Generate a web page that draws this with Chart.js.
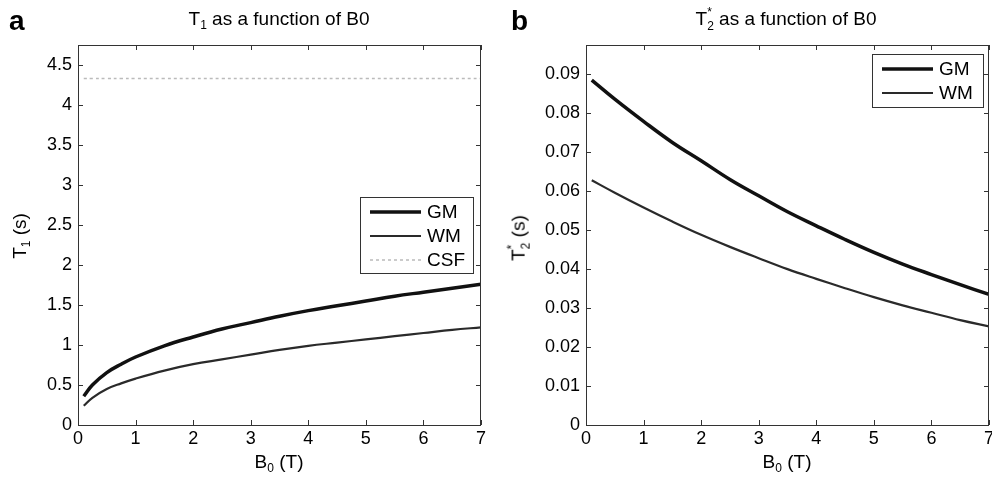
<!DOCTYPE html>
<html>
<head>
<meta charset="utf-8">
<script src="https://cdn.jsdelivr.net/npm/chart.js@4/dist/chart.umd.min.js"></script>
<style>
  body { margin: 0; background: #fff; }
  #wrap { position: relative; width: 992px; height: 484px; overflow: hidden; font-family: "Liberation Sans", Arial, sans-serif; color: #000; }
  canvas { position: absolute; top: 0; }
  .lbl { position: absolute; transform: translate(-50%, -50%); white-space: nowrap; font-size: 19px; color: #000; }
  .panel { position: absolute; font-size: 28px; font-weight: bold; }
  .rot { transform: translate(-50%, -50%) rotate(-90deg); }
  sub, sup { font-size: 12px; }
</style>
</head>
<body>
<div id="wrap">
  <canvas id="t1chart" width="496" height="484" style="left:0"></canvas>
  <canvas id="t2chart" width="496" height="484" style="left:496px"></canvas>
  <div class="panel" style="left:9px;top:5px">a</div>
  <div class="panel" style="left:511px;top:5px">b</div>
  <div class="lbl" style="left:279px;top:20px">T<sub>1</sub> as a function of B0</div>
  <div class="lbl" style="left:786px;top:20px">T<sub style="position:relative">2<sup style="position:absolute;left:0px;top:-14px">*</sup></sub> as a function of B0</div>
  <div class="lbl" style="left:279px;top:463px">B<sub>0</sub> (T)</div>
  <div class="lbl" style="left:787px;top:463px">B<sub>0</sub> (T)</div>
  <div class="lbl rot" style="left:21px;top:236px">T<sub>1</sub> (s)</div>
  <div class="lbl rot" style="left:520px;top:238px">T<sub style="position:relative">2<sup style="position:absolute;left:0px;top:-14px">*</sup></sub> (s)</div>
</div>
<script>
// B0 field strengths (T)
const b0T1 = [0.1, 0.25, 0.5, 0.75, 1, 1.5, 2, 2.5, 3, 3.5, 4, 4.5, 5, 5.5, 6, 6.5, 7];
const t1GM = [0.36, 0.50, 0.655, 0.76, 0.85, 0.99, 1.10, 1.20, 1.28, 1.36, 1.43, 1.49, 1.55, 1.61, 1.66, 1.71, 1.76];
const t1WM = [0.24, 0.34, 0.45, 0.52, 0.58, 0.68, 0.76, 0.82, 0.88, 0.94, 0.99, 1.03, 1.07, 1.11, 1.15, 1.19, 1.22];
const t1CSF = [4.33, 4.33, 4.33, 4.33, 4.33, 4.33, 4.33, 4.33, 4.33, 4.33, 4.33, 4.33, 4.33, 4.33, 4.33, 4.33, 4.33];

const b0T2 = [0.1, 0.5, 1, 1.5, 2, 2.5, 3, 3.5, 4, 4.5, 5, 5.5, 6, 6.5, 7];
const t2GM = [0.0885, 0.0836, 0.0779, 0.0725, 0.0678, 0.0630, 0.0588, 0.0547, 0.0511, 0.0476, 0.0443, 0.0413, 0.0386, 0.0360, 0.0335];
const t2WM = [0.0628, 0.0596, 0.0558, 0.0522, 0.0488, 0.0457, 0.0428, 0.0400, 0.0375, 0.0351, 0.0328, 0.0307, 0.0288, 0.0269, 0.0253];

const xTicks = [0, 1, 2, 3, 4, 5, 6, 7];

function pts(xs, ys) {
  return xs.map((x, i) => ({ x: x, y: ys[i] }));
}

// matlab style box with inward ticks + legend box
const matlabBox = {
  id: 'matlabBox',
  afterDraw(chart, args, opts) {
    const ctx = chart.ctx;
    const a = chart.chartArea;
    ctx.save();
    ctx.strokeStyle = '#333';
    ctx.lineWidth = 1;
    ctx.strokeRect(a.left + 0.5, a.top + 0.5, a.right - a.left - 1, a.bottom - a.top);
    const len = 5;
    ctx.beginPath();
    chart.scales.x.ticks.forEach(t => {
      const px = Math.round(chart.scales.x.getPixelForValue(t.value)) + 0.5;
      ctx.moveTo(px, a.bottom); ctx.lineTo(px, a.bottom - len);
      ctx.moveTo(px, a.top); ctx.lineTo(px, a.top + len);
    });
    chart.scales.y.ticks.forEach(t => {
      const py = Math.round(chart.scales.y.getPixelForValue(t.value)) + 0.5;
      ctx.moveTo(a.left, py); ctx.lineTo(a.left + len, py);
      ctx.moveTo(a.right, py); ctx.lineTo(a.right - len, py);
    });
    ctx.stroke();

    // legend
    const L = opts.legend;
    const ds = chart.data.datasets;
    ctx.fillStyle = '#fff';
    ctx.fillRect(L.x, L.y, L.w, L.h);
    ctx.strokeStyle = '#333';
    ctx.strokeRect(L.x + 0.5, L.y + 0.5, L.w, L.h);
    ctx.font = '19px "Liberation Sans", Arial, sans-serif';
    ctx.textBaseline = 'middle';
    ds.forEach((d, i) => {
      const y = L.y + 15 + i * 24;
      ctx.beginPath();
      ctx.strokeStyle = d.borderColor;
      ctx.lineWidth = d.borderWidth;
      ctx.setLineDash(d.borderDash || []);
      ctx.moveTo(L.x + 10, y); ctx.lineTo(L.x + 61, y);
      ctx.stroke();
      ctx.setLineDash([]);
      ctx.fillStyle = '#000';
      ctx.fillText(d.label, L.x + 67, y + 1);
    });
    ctx.restore();
  }
};

function makeOptions(yMax, yStep, yWidth, padL, padR, legend, decimals) {
  return {
    responsive: false,
    animation: false,
    layout: { padding: { left: padL, right: padR, top: 45, bottom: 29 } },
    plugins: {
      legend: { display: false },
      tooltip: { enabled: false },
      matlabBox: { legend: legend }
    },
    elements: { point: { radius: 0 }, line: { tension: 0.4 } },
    scales: {
      x: {
        type: 'linear', min: 0, max: 7,
        afterBuildTicks: s => { s.ticks = xTicks.map(v => ({ value: v })); },
        afterFit: s => { s.height = 30; s.paddingLeft = 0; s.paddingRight = 0; },
        grid: { display: false, drawTicks: false },
        border: { display: false },
        ticks: { color: '#000', padding: 3, font: { family: '"Liberation Sans", Arial, sans-serif', size: 18 }, maxRotation: 0 }
      },
      y: {
        type: 'linear', min: 0, max: yMax,
        afterFit: s => { s.width = yWidth; s.paddingTop = 0; s.paddingBottom = 0; },
        grid: { display: false, drawTicks: false },
        border: { display: false },
        ticks: {
          stepSize: yStep, includeBounds: false, color: '#000', padding: 6,
          font: { family: '"Liberation Sans", Arial, sans-serif', size: 18 },
          callback: v => decimals ? Number(v.toFixed(decimals)).toString() : v
        }
      }
    }
  };
}

new Chart(document.getElementById('t1chart'), {
  type: 'scatter',
  data: {
    datasets: [
      { label: 'GM', data: pts(b0T1, t1GM), showLine: true, borderColor: '#111', borderWidth: 3.5 },
      { label: 'WM', data: pts(b0T1, t1WM), showLine: true, borderColor: '#2a2a2a', borderWidth: 2.2 },
      { label: 'CSF', data: pts(b0T1, t1CSF), showLine: true, borderColor: '#bbb', borderWidth: 1.5, borderDash: [3, 3] }
    ]
  },
  options: makeOptions(4.75, 0.5, 60, 18, 15, { x: 360, y: 197, w: 113, h: 76 }, 1),
  plugins: [matlabBox]
});

new Chart(document.getElementById('t2chart'), {
  type: 'scatter',
  data: {
    datasets: [
      { label: 'GM', data: pts(b0T2, t2GM), showLine: true, borderColor: '#111', borderWidth: 3.5 },
      { label: 'WM', data: pts(b0T2, t2WM), showLine: true, borderColor: '#2a2a2a', borderWidth: 2.2 }
    ]
  },
  options: makeOptions(0.0975, 0.01, 70, 20, 3, { x: 376, y: 54, w: 111, h: 53 }, 2),
  plugins: [matlabBox]
});
</script>
</body>
</html>
